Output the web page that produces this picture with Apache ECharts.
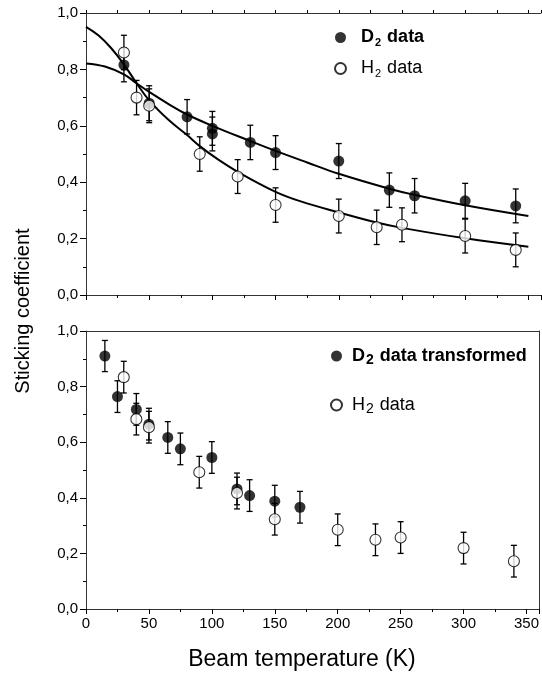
<!DOCTYPE html>
<html>
<head>
<meta charset="utf-8">
<script src="https://cdn.jsdelivr.net/npm/echarts@6/dist/echarts.min.js"></script>
<style>
html, body { margin: 0; padding: 0; background: #fff; }
#chart { width: 542px; height: 684px; }
</style>
</head>
<body>
<div id="chart"></div>
<script>
// top panel: measured points
var topD2X = [30, 50, 80, 100, 100, 130, 150, 200, 240, 260, 300, 340]
var topD2Y = [0.816, 0.68, 0.632, 0.591, 0.571, 0.541, 0.505, 0.475, 0.372, 0.352, 0.334, 0.316]
var topD2Err = [0.06, 0.062, 0.061, 0.06, 0.06, 0.061, 0.06, 0.062, 0.061, 0.061, 0.062, 0.06]
var topH2X = [30, 40, 50, 90, 120, 150, 200, 230, 250, 300, 340]
var topH2Y = [0.86, 0.70, 0.671, 0.50, 0.42, 0.319, 0.28, 0.24, 0.249, 0.209, 0.16]
var topH2Err = [0.061, 0.061, 0.06, 0.061, 0.06, 0.061, 0.06, 0.061, 0.06, 0.06, 0.06]

// top panel: fit curves
var fitD2X = [0, 15, 30, 40, 50, 65, 80, 100, 130, 150, 175, 200, 240, 260, 300, 350]
var fitD2Y = [0.821, 0.81, 0.782, 0.751, 0.72, 0.678, 0.64, 0.6, 0.546, 0.511, 0.47, 0.43, 0.377, 0.355, 0.318, 0.28]
var fitH2X = [0, 10, 20, 30, 40, 50, 65, 80, 90, 105, 120, 150, 170, 200, 230, 250, 300, 350]
var fitH2Y = [0.951, 0.92, 0.875, 0.818, 0.751, 0.69, 0.622, 0.567, 0.528, 0.479, 0.437, 0.366, 0.332, 0.293, 0.257, 0.238, 0.201, 0.171]

// bottom panel
var botD2X = [15, 25, 40, 50, 65, 75, 100, 120, 130, 150, 170]
var botD2Y = [0.91, 0.764, 0.718, 0.665, 0.617, 0.576, 0.545, 0.432, 0.408, 0.388, 0.366]
var botD2Err = [0.056, 0.057, 0.057, 0.057, 0.057, 0.057, 0.057, 0.057, 0.057, 0.057, 0.057]
var botH2X = [30, 40, 50, 90, 120, 150, 200, 230, 250, 300, 340]
var botH2Y = [0.834, 0.683, 0.654, 0.492, 0.417, 0.323, 0.285, 0.249, 0.257, 0.219, 0.172]
var botH2Err = [0.057, 0.057, 0.057, 0.057, 0.057, 0.057, 0.057, 0.057, 0.057, 0.057, 0.057]

var xTicks = [0, 50, 100, 150, 200, 250, 300, 350]

var font = '"Liberation Sans", Arial, sans-serif'
var axisColor = '#333'

function pairs(xs, ys) {
	return xs.map(function (x, i) { return [x, ys[i]] })
}

function bars(xs, ys, errs) {
	return xs.map(function (x, i) { return [x, ys[i] - errs[i], ys[i] + errs[i]] })
}

function errorBarItem(params, api) {
	var x = api.value(0)
	var lo = api.coord([x, api.value(1)])
	var hi = api.coord([x, api.value(2)])
	var half = 3
	var style = { stroke: '#000', lineWidth: 1.3 }
	return {
		type: 'group',
		children: [
			{ type: 'line', shape: { x1: lo[0], y1: lo[1], x2: hi[0], y2: hi[1] }, style: style },
			{ type: 'line', shape: { x1: lo[0] - half, y1: lo[1], x2: lo[0] + half, y2: lo[1] }, style: style },
			{ type: 'line', shape: { x1: hi[0] - half, y1: hi[1], x2: hi[0] + half, y2: hi[1] }, style: style },
		],
	}
}

function xAxis(grid, labels) {
	return {
		type: 'value',
		gridIndex: grid,
		position: 'bottom',
		min: 0,
		max: 360,
		interval: 50,
		axisLine: { show: true, onZero: false, lineStyle: { color: axisColor, width: 1 } },
		axisTick: { show: true, length: 5, lineStyle: { color: '#000' } },
		minorTick: { show: true, splitNumber: 2, length: 3, lineStyle: { color: '#000' } },
		splitLine: { show: false },
		axisLabel: {
			show: labels,
			margin: 7,
			fontSize: 15,
			fontFamily: font,
			color: '#000',
			customValues: xTicks,
		},
	}
}

function yAxis(grid) {
	return {
		type: 'value',
		gridIndex: grid,
		min: 0,
		max: 1,
		interval: 0.2,
		axisLine: { show: true, onZero: false, lineStyle: { color: axisColor, width: 1 } },
		axisTick: { show: true, length: 6, lineStyle: { color: '#000' } },
		minorTick: { show: true, splitNumber: 2, length: 3, lineStyle: { color: '#000' } },
		splitLine: { show: false },
		axisLabel: {
			margin: 8,
			fontSize: 15,
			fontFamily: font,
			color: '#000',
			formatter: function (v) {
				return v.toFixed(1).replace('.', ',')
			},
		},
	}
}

function frameAxis(type, grid, position, ticks) {
	return {
		type: 'value',
		gridIndex: grid,
		position: position,
		min: 0,
		max: type === 'x' ? 360 : 1,
		interval: type === 'x' ? 25 : 0.2,
		axisLine: { show: true, onZero: false, lineStyle: { color: axisColor, width: 1 } },
		axisTick: { show: ticks, length: 3, lineStyle: { color: '#000' } },
		splitLine: { show: false },
		axisLabel: { show: false },
	}
}

function legendText(bold, subSize, subPad) {
	var w = bold ? 'bold' : 'normal'
	return {
		fontFamily: font,
		color: '#000',
		rich: {
			m: { fontSize: 18, fontWeight: w, fontFamily: font, color: '#000', lineHeight: 20 },
			s: { fontSize: subSize, fontWeight: w, fontFamily: font, color: '#000', lineHeight: 20, padding: [subPad, 1, 0, 1] },
		},
	}
}

var filled = { color: '#000' }
var open = { color: '#fff', borderColor: '#000', borderWidth: 1.1 }

var chart = echarts.init(document.getElementById('chart'), null, { renderer: 'canvas' })

chart.setOption({
	backgroundColor: '#fff',
	animation: false,
	grid: [
		{ left: 86, top: 13, width: 455, height: 282 },
		{ left: 86, top: 331, width: 455, height: 278 },
	],
	xAxis: [xAxis(0, false), frameAxis('x', 0, 'top', true), xAxis(1, true), frameAxis('x', 1, 'top', false)],
	yAxis: [yAxis(0), yAxis(1), frameAxis('y', 1, 'right', false)],
	legend: [
		{
			left: 329,
			top: 22,
			orient: 'vertical',
			itemWidth: 11,
			itemHeight: 11,
			itemGap: 10,
			selectedMode: false,
			data: [
				{ name: 'D2 data', icon: 'circle', textStyle: legendText(true, 11, 10) },
				{ name: 'H2 data', icon: 'circle', textStyle: legendText(false, 11, 10) },
			],
			formatter: function (name) {
				return name === 'D2 data' ? '{m|  D}{s|2}{m| data}' : '{m|  H}{s|2}{m| data}'
			},
		},
		{
			left: 325,
			top: 340,
			orient: 'vertical',
			itemWidth: 11,
			itemHeight: 11,
			itemGap: 27,
			selectedMode: false,
			data: [
				{ name: 'D2 data transformed', icon: 'circle', textStyle: legendText(true, 14, 8) },
				{ name: 'H2 data ', icon: 'circle', textStyle: legendText(false, 14, 8) },
			],
			formatter: function (name) {
				return name === 'D2 data transformed' ? '{m| D}{s|2}{m| data transformed}' : '{m| H}{s|2}{m| data}'
			},
		},
	],
	graphic: [
		{
			type: 'text',
			x: 23,
			y: 311,
			rotation: Math.PI / 2,
			style: {
				text: 'Sticking coefficient',
				font: '20px ' + font,
				fill: '#000',
				align: 'center',
				verticalAlign: 'middle',
			},
		},
		{
			type: 'text',
			x: 302,
			y: 660,
			style: {
				text: 'Beam temperature (K)',
				font: '23px ' + font,
				fill: '#000',
				align: 'center',
				verticalAlign: 'middle',
			},
		},
	],
	series: [
		{
			type: 'line',
			name: 'D2 fit',
			xAxisIndex: 0,
			yAxisIndex: 0,
			data: pairs(fitD2X, fitD2Y),
			smooth: 0.4,
			showSymbol: false,
			lineStyle: { color: '#000', width: 2 },
			z: 2,
		},
		{
			type: 'line',
			name: 'H2 fit',
			xAxisIndex: 0,
			yAxisIndex: 0,
			data: pairs(fitH2X, fitH2Y),
			smooth: 0.4,
			showSymbol: false,
			lineStyle: { color: '#000', width: 2 },
			z: 2,
		},
		{
			type: 'custom',
			xAxisIndex: 0,
			yAxisIndex: 0,
			renderItem: errorBarItem,
			encode: { x: 0, y: [1, 2] },
			data: bars(topD2X, topD2Y, topD2Err),
			z: 3,
		},
		{
			type: 'custom',
			xAxisIndex: 0,
			yAxisIndex: 0,
			renderItem: errorBarItem,
			encode: { x: 0, y: [1, 2] },
			data: bars(topH2X, topH2Y, topH2Err),
			z: 3,
		},
		{
			type: 'scatter',
			name: 'D2 data',
			xAxisIndex: 0,
			yAxisIndex: 0,
			data: pairs(topD2X, topD2Y),
			symbol: 'circle',
			symbolSize: 11,
			itemStyle: filled,
			z: 4,
		},
		{
			type: 'scatter',
			name: 'H2 data',
			xAxisIndex: 0,
			yAxisIndex: 0,
			data: pairs(topH2X, topH2Y),
			symbol: 'circle',
			symbolSize: 11,
			itemStyle: open,
			z: 5,
		},
		{
			type: 'custom',
			xAxisIndex: 2,
			yAxisIndex: 1,
			renderItem: errorBarItem,
			encode: { x: 0, y: [1, 2] },
			data: bars(botD2X, botD2Y, botD2Err),
			z: 3,
		},
		{
			type: 'custom',
			xAxisIndex: 2,
			yAxisIndex: 1,
			renderItem: errorBarItem,
			encode: { x: 0, y: [1, 2] },
			data: bars(botH2X, botH2Y, botH2Err),
			z: 3,
		},
		{
			type: 'scatter',
			name: 'D2 data transformed',
			xAxisIndex: 2,
			yAxisIndex: 1,
			data: pairs(botD2X, botD2Y),
			symbol: 'circle',
			symbolSize: 11,
			itemStyle: filled,
			z: 4,
		},
		{
			type: 'scatter',
			name: 'H2 data ',
			xAxisIndex: 2,
			yAxisIndex: 1,
			data: pairs(botH2X, botH2Y),
			symbol: 'circle',
			symbolSize: 11,
			itemStyle: open,
			z: 5,
		},
	],
})
</script>
</body>
</html>
